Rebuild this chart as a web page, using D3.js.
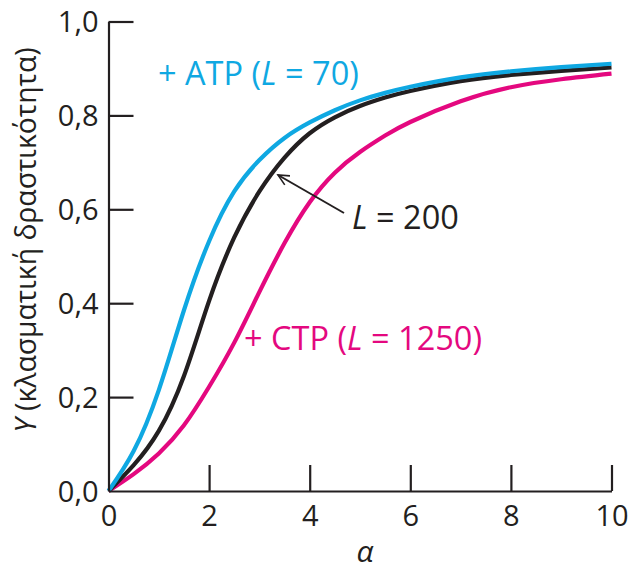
<!DOCTYPE html>
<html>
<head>
<meta charset="utf-8">
<script src="https://cdn.jsdelivr.net/npm/d3@7"></script>
<style>
  html, body { margin: 0; padding: 0; background: #fff; }
  svg { display: block; }
  text { font-family: "Open Sans", "Noto Sans", sans-serif; }
</style>
</head>
<body>
<svg id="chart" width="630" height="572"></svg>
<script>
// ---- data ----
const alphaValues = [0, 0.5, 1, 1.5, 2, 2.5, 3, 3.5, 4, 4.5, 5, 5.5, 6, 7, 8, 9, 10];
const atpValues   = [0, 0.085, 0.215, 0.385, 0.532, 0.638, 0.705, 0.752, 0.785, 0.811, 0.832, 0.848, 0.861, 0.881, 0.894, 0.903, 0.91];
const noneValues  = [0, 0.055, 0.128, 0.245, 0.405, 0.54, 0.638, 0.71, 0.762, 0.796, 0.82, 0.838, 0.852, 0.873, 0.886, 0.895, 0.902];
const ctpValues   = [0, 0.036, 0.08, 0.14, 0.222, 0.316, 0.424, 0.528, 0.615, 0.678, 0.722, 0.757, 0.786, 0.83, 0.86, 0.877, 0.889];
const xTicks = [0, 2, 4, 6, 8, 10];
const yTicks = [0, 0.2, 0.4, 0.6, 0.8, 1.0];
const seriesColors = ["#0fa8e2", "#231f20", "#e4087f"];

const svg = d3.select("#chart");
const x = d3.scaleLinear().domain([0, 10]).range([108.5, 611.5]);
const y = d3.scaleLinear().domain([0, 1]).range([491, 21.5]);
const fmt = d => d3.format(".1f")(d).replace(".", ",");

// curves
const series = [atpValues, noneValues, ctpValues];
const line = d3.line()
  .x((d, i) => x(alphaValues[i]))
  .y(d => y(d))
  .curve(d3.curveNatural);
[2, 1, 0].forEach(k => {
  svg.append("path")
    .datum(series[k])
    .attr("fill", "none")
    .attr("stroke", seriesColors[k])
    .attr("stroke-width", 4.2)
    .attr("d", line);
});

// axes
const axisColor = "#231f20";
const gx = svg.append("g").attr("transform", `translate(0,${y(0)})`)
  .call(d3.axisBottom(x).tickValues(xTicks).tickSize(-26).tickFormat(d3.format("d")).tickSizeOuter(0));
const gy = svg.append("g").attr("transform", `translate(${x(0)},0)`)
  .call(d3.axisLeft(y).tickValues(yTicks).tickSize(-25).tickFormat(fmt).tickSizeOuter(0));
[gx, gy].forEach(g => {
  g.select(".domain").attr("stroke", axisColor).attr("stroke-width", 2.2);
  g.selectAll(".tick line").attr("stroke", axisColor).attr("stroke-width", 2.2);
  g.selectAll(".tick text").attr("fill", "#231f20").attr("font-size", 29)
    .attr("font-family", "'Open Sans', sans-serif");
});
gx.selectAll(".tick line").filter(d => d === 0).remove();
gy.selectAll(".tick line").filter(d => d === 0).remove();
gx.selectAll(".tick text").attr("y", 0).attr("dy", 0).attr("transform", "translate(0,35)");
gy.selectAll(".tick text").attr("x", -10).attr("dy", "0.36em");

// axis titles
svg.append("text")
  .attr("x", 365).attr("y", 562)
  .attr("text-anchor", "middle")
  .attr("font-size", 30).attr("font-style", "italic").attr("fill", "#231f20")
  .text("α");

const yl = svg.append("text")
  .attr("transform", "translate(36,240) rotate(-90)")
  .attr("text-anchor", "middle")
  .attr("font-size", 28.3).attr("fill", "#231f20");
yl.append("tspan").attr("font-style", "italic").text("Y");
yl.append("tspan").text(" (κλασματική δραστικότητα)");

// series labels
function label(xp, yp, color, pre, post) {
  const t = svg.append("text").attr("x", xp).attr("y", yp)
    .attr("font-size", 32.5).attr("fill", color);
  t.append("tspan").text(pre);
  t.append("tspan").attr("font-style", "italic").text("L");
  t.append("tspan").text(post);
  return t;
}
label(158, 85, seriesColors[0], "+ ATP (", " = 70)");
label(352, 229, seriesColors[1], "", " = 200");
label(244, 350, seriesColors[2], "+ CTP (", " = 1250)");

// arrow
const arrowColor = "#231f20";
const ax0 = 344, ay0 = 213, ax1 = 278, ay1 = 175;
svg.append("line").attr("x1", ax0).attr("y1", ay0).attr("x2", ax1).attr("y2", ay1)
  .attr("stroke", arrowColor).attr("stroke-width", 2);
const ang = Math.atan2(ay0 - ay1, ax0 - ax1);
const hl = 12, hw = 0.45;
svg.append("path")
  .attr("d", `M${ax1 + hl*Math.cos(ang+hw)},${ay1 + hl*Math.sin(ang+hw)} L${ax1},${ay1} L${ax1 + hl*Math.cos(ang-hw)},${ay1 + hl*Math.sin(ang-hw)}`)
  .attr("fill", "none").attr("stroke", arrowColor).attr("stroke-width", 1.6);
</script>
</body>
</html>
